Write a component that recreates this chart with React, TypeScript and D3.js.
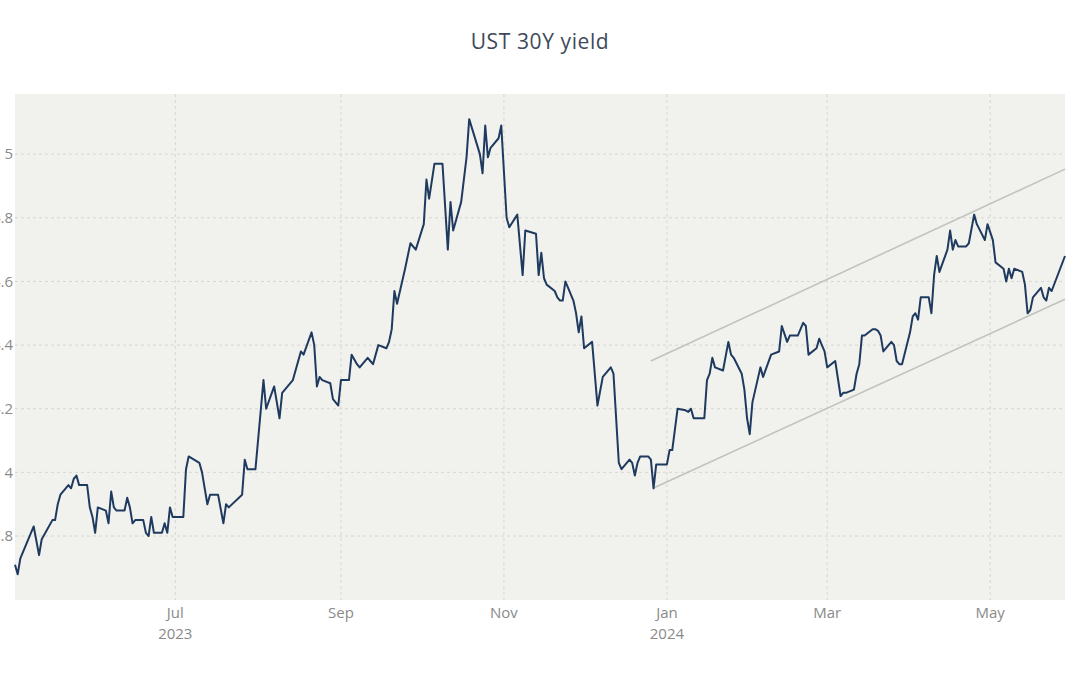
import React, { useEffect, useRef } from "react";
import * as d3 from "d3";

const dates: string[] = [
  "2023-05-02","2023-05-03","2023-05-04","2023-05-09","2023-05-11","2023-05-12","2023-05-16","2023-05-17","2023-05-18","2023-05-19",
  "2023-05-22","2023-05-23","2023-05-24","2023-05-25","2023-05-26","2023-05-29","2023-05-30","2023-05-31","2023-06-01","2023-06-02",
  "2023-06-05","2023-06-06","2023-06-07","2023-06-08","2023-06-09","2023-06-12","2023-06-13","2023-06-14","2023-06-15","2023-06-16",
  "2023-06-19","2023-06-20","2023-06-21","2023-06-22","2023-06-23","2023-06-26","2023-06-27","2023-06-28","2023-06-29","2023-06-30",
  "2023-07-03","2023-07-04","2023-07-05","2023-07-06","2023-07-10","2023-07-11","2023-07-13","2023-07-14","2023-07-17","2023-07-19",
  "2023-07-20","2023-07-21","2023-07-26","2023-07-27","2023-07-28","2023-07-31","2023-08-03","2023-08-04","2023-08-07","2023-08-09",
  "2023-08-10","2023-08-14","2023-08-15","2023-08-17","2023-08-18","2023-08-21","2023-08-22","2023-08-23","2023-08-24","2023-08-25",
  "2023-08-28","2023-08-29","2023-08-31","2023-09-01","2023-09-04","2023-09-05","2023-09-07","2023-09-08","2023-09-11","2023-09-12",
  "2023-09-13","2023-09-14","2023-09-15","2023-09-18","2023-09-19","2023-09-20","2023-09-21","2023-09-22","2023-09-25","2023-09-26",
  "2023-09-27","2023-09-29","2023-10-02","2023-10-03","2023-10-04","2023-10-06","2023-10-09","2023-10-11","2023-10-12","2023-10-13",
  "2023-10-16","2023-10-18","2023-10-19","2023-10-23","2023-10-24","2023-10-25","2023-10-26","2023-10-27","2023-10-30","2023-10-31",
  "2023-11-02","2023-11-03","2023-11-06","2023-11-08","2023-11-09","2023-11-13","2023-11-14","2023-11-15","2023-11-16","2023-11-17",
  "2023-11-20","2023-11-21","2023-11-22","2023-11-23","2023-11-24","2023-11-27","2023-11-28","2023-11-29","2023-11-30","2023-12-01",
  "2023-12-04","2023-12-06","2023-12-08","2023-12-11","2023-12-12","2023-12-14","2023-12-15","2023-12-18","2023-12-19","2023-12-20",
  "2023-12-21","2023-12-22","2023-12-25","2023-12-26","2023-12-27","2023-12-28","2023-12-29","2024-01-01","2024-01-02","2024-01-03",
  "2024-01-05","2024-01-08","2024-01-09","2024-01-10","2024-01-11","2024-01-12","2024-01-15","2024-01-16","2024-01-17","2024-01-18",
  "2024-01-19","2024-01-22","2024-01-24","2024-01-25","2024-01-26","2024-01-29","2024-01-30","2024-01-31","2024-02-01","2024-02-02",
  "2024-02-05","2024-02-06","2024-02-09","2024-02-12","2024-02-13","2024-02-15","2024-02-16","2024-02-19","2024-02-21","2024-02-22",
  "2024-02-23","2024-02-26","2024-02-27","2024-02-28","2024-02-29","2024-03-01","2024-03-04","2024-03-06","2024-03-07","2024-03-08",
  "2024-03-11","2024-03-12","2024-03-13","2024-03-14","2024-03-15","2024-03-18","2024-03-19","2024-03-20","2024-03-21","2024-03-22",
  "2024-03-25","2024-03-26","2024-03-27","2024-03-28","2024-03-29","2024-04-01","2024-04-02","2024-04-03","2024-04-04","2024-04-05",
  "2024-04-08","2024-04-09","2024-04-10","2024-04-11","2024-04-12","2024-04-15","2024-04-16","2024-04-17","2024-04-18","2024-04-19",
  "2024-04-22","2024-04-23","2024-04-25","2024-04-26","2024-04-29","2024-04-30","2024-05-02","2024-05-03","2024-05-06","2024-05-07",
  "2024-05-08","2024-05-09","2024-05-10","2024-05-13","2024-05-14","2024-05-15","2024-05-16","2024-05-17","2024-05-20","2024-05-21",
  "2024-05-22","2024-05-23","2024-05-24","2024-05-29",
];

const yields: number[] = [
  3.71,3.68,3.73,3.83,3.74,3.79,3.85,3.85,3.90,3.93,
  3.96,3.95,3.98,3.99,3.96,3.96,3.89,3.86,3.81,3.89,
  3.88,3.84,3.94,3.89,3.88,3.88,3.92,3.89,3.84,3.85,
  3.85,3.81,3.80,3.86,3.81,3.81,3.84,3.81,3.89,3.86,
  3.86,3.86,4.01,4.05,4.03,4.00,3.90,3.93,3.93,3.84,
  3.90,3.89,3.93,4.04,4.01,4.01,4.29,4.20,4.27,4.17,
  4.25,4.29,4.32,4.38,4.37,4.44,4.40,4.27,4.30,4.29,
  4.28,4.23,4.21,4.29,4.29,4.37,4.34,4.33,4.36,4.35,
  4.34,4.37,4.40,4.39,4.41,4.45,4.57,4.53,4.64,4.68,
  4.72,4.70,4.78,4.92,4.86,4.97,4.97,4.70,4.85,4.76,
  4.85,4.99,5.11,5.00,4.94,5.09,4.99,5.02,5.05,5.09,
  4.80,4.77,4.81,4.62,4.76,4.75,4.62,4.69,4.61,4.59,
  4.57,4.55,4.54,4.54,4.60,4.54,4.50,4.44,4.49,4.39,
  4.41,4.21,4.30,4.33,4.31,4.03,4.01,4.04,4.03,3.99,
  4.03,4.05,4.05,4.04,3.95,4.025,4.025,4.025,4.07,4.07,
  4.20,4.195,4.19,4.20,4.17,4.17,4.17,4.29,4.31,4.36,
  4.33,4.32,4.41,4.37,4.36,4.31,4.26,4.17,4.12,4.22,
  4.33,4.30,4.37,4.38,4.46,4.41,4.43,4.43,4.47,4.46,
  4.37,4.39,4.42,4.40,4.38,4.33,4.35,4.24,4.25,4.25,
  4.26,4.31,4.34,4.43,4.43,4.45,4.45,4.445,4.43,4.38,
  4.41,4.40,4.35,4.34,4.34,4.44,4.49,4.50,4.48,4.55,
  4.55,4.50,4.62,4.68,4.63,4.70,4.76,4.70,4.73,4.71,
  4.71,4.72,4.81,4.78,4.73,4.78,4.73,4.66,4.64,4.60,
  4.64,4.61,4.64,4.63,4.59,4.50,4.51,4.55,4.58,4.55,
  4.54,4.58,4.57,4.68,
];

// Trend channel (start/end)
const channelDates: string[] = ["2023-12-26", "2024-05-29"];
const upperChannel: number[] = [4.35, 4.953];
const lowerChannelDates: string[] = ["2023-12-27", "2024-05-29"];
const lowerChannel: number[] = [3.951, 4.544];

const yTicks: number[] = [3.8, 4, 4.2, 4.4, 4.6, 4.8, 5];
const xTickDates: string[] = ["2023-07-01", "2023-09-01", "2023-11-01", "2024-01-01", "2024-03-01", "2024-05-01"];
const xTickLabels: string[] = ["Jul", "Sep", "Nov", "Jan", "Mar", "May"];
const xTickYears: string[] = ["2023", "", "", "2024", "", ""];

const W = 1080;
const H = 675;
const M = { left: 15, right: 15, top: 94, bottom: 75 };
const FONT = "'Open Sans', 'Noto Sans', sans-serif";

export default function App() {
  const ref = useRef<SVGSVGElement | null>(null);

  useEffect(() => {
    const svg = d3.select(ref.current);
    svg.selectAll("*").remove();
    const parse = d3.utcParse("%Y-%m-%d");
    const data = dates.map((d, i) => ({ date: parse(d) as Date, v: yields[i] }));

    const x = d3
      .scaleUtc()
      .domain([data[0].date, data[data.length - 1].date])
      .range([M.left, W - M.right]);
    const y = d3.scaleLinear().domain([3.599, 5.189]).range([H - M.bottom, M.top]);

    svg
      .append("rect")
      .attr("x", M.left)
      .attr("y", M.top)
      .attr("width", W - M.left - M.right)
      .attr("height", H - M.top - M.bottom)
      .attr("fill", "#f1f1ed");

    const grid = svg.append("g");
    yTicks.forEach((t) => {
      grid
        .append("line")
        .attr("x1", M.left)
        .attr("x2", W - M.right)
        .attr("y1", y(t))
        .attr("y2", y(t))
        .attr("stroke", "#d6d6d3")
        .attr("stroke-width", 1)
        .attr("stroke-dasharray", "3,3");
      svg
        .append("text")
        .attr("x", M.left - 2)
        .attr("y", y(t))
        .attr("dy", "0.35em")
        .attr("text-anchor", "end")
        .attr("font-family", FONT)
        .attr("font-size", 15)
        .attr("fill", "#8a8a8a")
        .text(String(t));
    });

    xTickDates.forEach((ds, i) => {
      const xx = x(parse(ds) as Date);
      grid
        .append("line")
        .attr("x1", xx)
        .attr("x2", xx)
        .attr("y1", M.top)
        .attr("y2", H - M.bottom)
        .attr("stroke", "#d6d6d3")
        .attr("stroke-width", 1)
        .attr("stroke-dasharray", "3,3");
      svg
        .append("text")
        .attr("x", xx)
        .attr("y", 618)
        .attr("text-anchor", "middle")
        .attr("font-family", FONT)
        .attr("font-size", 15)
        .attr("fill", "#8a8a8a")
        .text(xTickLabels[i]);
      if (xTickYears[i]) {
        svg
          .append("text")
          .attr("x", xx)
          .attr("y", 639)
          .attr("text-anchor", "middle")
          .attr("font-family", FONT)
          .attr("font-size", 15)
          .attr("fill", "#8a8a8a")
          .text(xTickYears[i]);
      }
    });

    const line = d3
      .line<{ date: Date; v: number }>()
      .x((d) => x(d.date))
      .y((d) => y(d.v));

    const up = channelDates.map((d, i) => ({ date: parse(d) as Date, v: upperChannel[i] }));
    const lo = lowerChannelDates.map((d, i) => ({ date: parse(d) as Date, v: lowerChannel[i] }));
    [up, lo].forEach((seg) => {
      svg
        .append("path")
        .attr("d", line(seg) as string)
        .attr("fill", "none")
        .attr("stroke", "#c2c2bf")
        .attr("stroke-width", 1.6);
    });

    svg
      .append("path")
      .attr("d", line(data) as string)
      .attr("fill", "none")
      .attr("stroke", "#1f3a5f")
      .attr("stroke-width", 2)
      .attr("stroke-linejoin", "round");

    svg
      .append("text")
      .attr("x", W / 2)
      .attr("y", 49)
      .attr("text-anchor", "middle")
      .attr("font-family", FONT)
      .attr("font-size", 21)
      .attr("letter-spacing", 0.6)
      .attr("fill", "#3e4a5a")
      .text("UST 30Y yield");
  }, []);

  return (
    <svg
      ref={ref}
      width={W}
      height={H}
      style={{ position: "absolute", left: 0, top: 0, background: "#ffffff" }}
    />
  );
}
